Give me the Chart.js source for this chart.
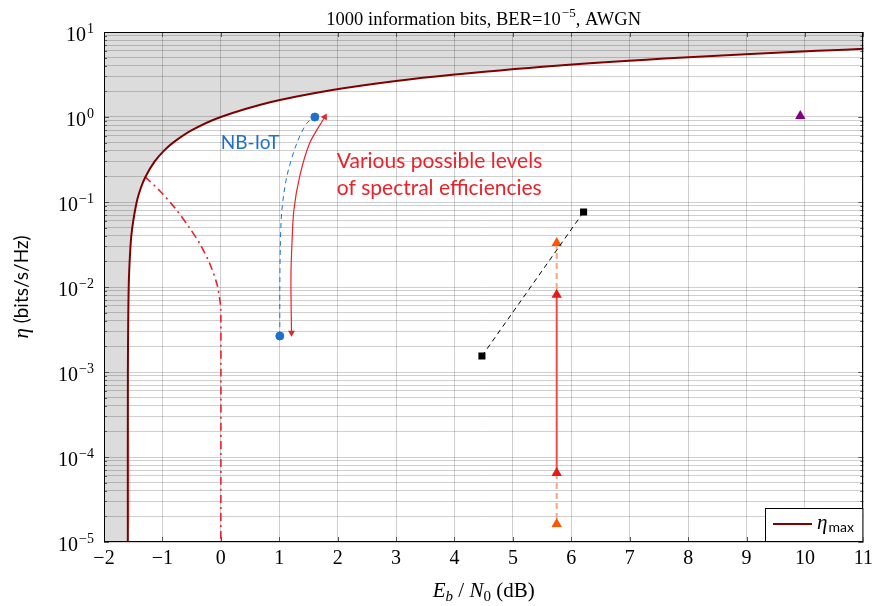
<!DOCTYPE html>
<html><head><meta charset="utf-8">
<script src="https://cdn.jsdelivr.net/npm/chart.js@4/dist/chart.umd.min.js"></script>
<style>html,body{margin:0;padding:0;background:#fff}canvas{display:block}</style>
</head><body>
<canvas id="c" width="878" height="606"></canvas>
<script>
// ---- data ----
const xTicks = [-2,-1,0,1,2,3,4,5,6,7,8,9,10,11];
const yTickExps = [-5,-4,-3,-2,-1,0,1];
const yMantissas = [1,2,3,4,5,6,7,8,9];

// eta_max curve (Eb/N0 dB, eta)
const etaMaxEbN0 = [-1.592,-1.591,-1.577,-1.547,-1.516,-1.440,-1.364,-1.287,-1.132,-0.976,-0.817,-0.496,0.0,0.860,1.761,2.70,3.680,5.740,7.924,10.212,11.15];
const etaMaxEta  = [1e-5, 1e-3, 0.01, 0.03, 0.05, 0.1, 0.15, 0.2, 0.3, 0.4, 0.5, 0.7, 1.0, 1.5, 2.0, 2.5, 3.0, 4.0, 5.0, 6.0, 6.4];

// red dash-dot limit curve
const limitEbN0 = [-1.30,-1.042,-0.786,-0.546,-0.358,-0.187,-0.067,-0.016,0.0,0.0];
const limitEta  = [0.199,0.1347,0.085,0.0508,0.0321,0.01865,0.01084,0.00703,0.00508,1e-5];

// NB-IoT (blue)
const nbiotPathEbN0 = [1.01,1.01,1.02,1.045,1.13,1.30,1.47,1.61];
const nbiotPathEta  = [0.00265,0.01,0.033,0.08,0.2,0.49,0.84,1.0];
const nbiotPtsEbN0 = [1.01,1.61];
const nbiotPtsEta  = [0.00265,1.0];

// red double arrow
const arrowEbN0 = [1.21,1.20,1.22,1.25,1.35,1.52,1.78];
const arrowEta  = [0.0029,0.0132,0.035,0.08,0.2,0.49,1.0];
const arrowHeadRot = [180, 30];

// black squares
const blackEbN0 = [4.47, 6.21];
const blackEta  = [0.00154, 0.0763];

// triangles at 5.75 dB
const triEbN0 = 5.75;
const orangeEta = [0.033, 1.63e-5];
const redEta = [0.0081, 6.5e-5];

// purple triangle
const purpleEbN0 = [9.92];
const purpleEta = [1.03];

// texts
const titleParts = ['1000 information bits, BER=10', '\u22125', ', AWGN'];
const nbiotLabel = 'NB-IoT';
const redLabel = ['Various possible levels', 'of spectral efficiencies'];
const legendLabel = ['\u03B7', 'max'];

// ---- helpers ----
const pts = (xs, ys) => xs.map((x, i) => ({x, y: ys[i]}));
const xMin = xTicks[0], xMax = xTicks[xTicks.length - 1];
const yMin = Math.pow(10, yTickExps[0]), yMax = Math.pow(10, yTickExps[yTickExps.length - 1]);

const yTickValues = [];
for (let k = yTickExps[0]; k < yTickExps[yTickExps.length - 1]; k++) {
  yMantissas.forEach(m => yTickValues.push({value: m * Math.pow(10, k), major: m === 1}));
}
yTickValues.push({value: yMax, major: true});

const SERIF = '"Liberation Serif", "DejaVu Serif", serif';
const SANS = 'Lato, "Open Sans", sans-serif';

const RED = '#e8232b';
const DARKRED = '#800000';
const BLUE = '#1f6fcc';
const ORANGE = '#ff5500';
const SALMON = '#f7a588';

const fillData = [{x: xMin, y: yMin}].concat(pts(etaMaxEbN0, etaMaxEta));

const deco = {
  id: 'deco',
  afterDraw(chart) {
    const ctx = chart.ctx;
    const xs = chart.scales.x, ys = chart.scales.y;
    const a = chart.chartArea;
    ctx.save();
    // tick marks
    ctx.strokeStyle = '#555';
    ctx.lineWidth = 1;
    xTicks.forEach(v => {
      const px = Math.round(xs.getPixelForValue(v)) + 0.5;
      ctx.beginPath();
      ctx.moveTo(px, a.bottom); ctx.lineTo(px, a.bottom - 5);
      ctx.moveTo(px, a.top); ctx.lineTo(px, a.top + 5);
      ctx.stroke();
    });
    yTickValues.forEach(t => {
      const py = Math.round(ys.getPixelForValue(t.value)) + 0.5;
      const L = t.major ? 5 : 3;
      ctx.beginPath();
      ctx.moveTo(a.left, py); ctx.lineTo(a.left + L, py);
      ctx.moveTo(a.right, py); ctx.lineTo(a.right - L, py);
      ctx.stroke();
    });
    // border
    ctx.strokeStyle = '#000';
    ctx.strokeRect(Math.round(a.left) + 0.5, Math.round(a.top) + 0.5, Math.round(a.right - a.left) - 1, Math.round(a.bottom - a.top) - 1);

    ctx.fillStyle = '#000';
    ctx.textBaseline = 'alphabetic';
    // y tick labels
    yTickExps.forEach(k => {
      const py = ys.getPixelForValue(Math.pow(10, k));
      const sup = k < 0 ? '\u2212' + Math.abs(k) : String(k);
      ctx.font = '14px ' + SERIF;
      const ws = ctx.measureText(sup).width;
      ctx.font = '20px ' + SERIF;
      const wb = ctx.measureText('10').width;
      const right = 94;
      ctx.textAlign = 'left';
      ctx.fillText('10', right - ws - wb - 1, py + 9);
      ctx.font = '14px ' + SERIF;
      ctx.fillText(sup, right - ws, py + 1);
    });

    // title
    const TF = '18.5px ' + SERIF, TS = '13px ' + SERIF;
    ctx.font = TF;
    const w0 = ctx.measureText(titleParts[0]).width;
    const w2 = ctx.measureText(titleParts[2]).width;
    ctx.font = TS;
    const w1 = ctx.measureText(titleParts[1]).width;
    const cx = (a.left + a.right) / 2;
    let tx = cx - (w0 + w1 + w2 + 1) / 2;
    ctx.font = TF;
    ctx.fillText(titleParts[0], tx, 25);
    ctx.font = TS;
    ctx.fillText(titleParts[1], tx + w0 + 1, 17);
    ctx.font = TF;
    ctx.fillText(titleParts[2], tx + w0 + w1 + 1, 25);

    // x axis title: E_b / N_0 (dB)
    const segs = [
      ['E', 'italic 21px ' + SERIF, 0],
      ['b', 'italic 15px ' + SERIF, 4],
      [' / ', '21px ' + SERIF, 0],
      ['N', 'italic 21px ' + SERIF, 0],
      ['0', '15px ' + SERIF, 4],
      [' (dB)', '21px ' + SERIF, 0]
    ];
    let tw = 0;
    segs.forEach(s => { ctx.font = s[1]; s.push(ctx.measureText(s[0]).width); tw += s[3]; });
    let sx = cx - tw / 2;
    segs.forEach(s => { ctx.font = s[1]; ctx.fillText(s[0], sx, 597 + s[2]); sx += s[3]; });

    // y axis title
    ctx.save();
    ctx.translate(28, (a.top + a.bottom) / 2);
    ctx.rotate(-Math.PI / 2);
    ctx.font = 'italic 21px ' + SERIF;
    const we = ctx.measureText('\u03B7').width;
    ctx.font = '19px ' + SANS;
    const wr = ctx.measureText(' (bits/s/Hz)').width;
    let yx = -(we + wr) / 2;
    ctx.font = 'italic 21px ' + SERIF;
    ctx.fillText('\u03B7', yx, 0);
    ctx.font = '19px ' + SANS;
    ctx.fillText(' (bits/s/Hz)', yx + we, 0);
    ctx.restore();

    // annotations
    ctx.fillStyle = BLUE;
    ctx.font = '19px ' + SANS;
    ctx.fillText(nbiotLabel, xs.getPixelForValue(0.0), ys.getPixelForValue(0.42));
    ctx.fillStyle = RED;
    ctx.font = '21px ' + SANS;
    ctx.fillText(redLabel[0], xs.getPixelForValue(1.985), ys.getPixelForValue(0.251));
    ctx.fillText(redLabel[1], xs.getPixelForValue(1.985), ys.getPixelForValue(0.121));

    // legend
    const lx = 765, ly = 508;
    ctx.fillStyle = '#fff';
    ctx.fillRect(lx, ly, a.right - lx, a.bottom - ly);
    ctx.strokeStyle = '#000';
    ctx.lineWidth = 1;
    ctx.strokeRect(lx + 0.5, ly + 0.5, a.right - lx - 1, a.bottom - ly - 1);
    ctx.strokeStyle = DARKRED;
    ctx.lineWidth = 2;
    ctx.beginPath(); ctx.moveTo(773, 524); ctx.lineTo(812, 524); ctx.stroke();
    ctx.fillStyle = '#000';
    ctx.font = 'italic 21px ' + SERIF;
    ctx.fillText(legendLabel[0], 817, 529);
    const wl = ctx.measureText(legendLabel[0]).width;
    ctx.font = '14px ' + SANS;
    ctx.fillText(legendLabel[1], 817 + wl + 1, 532);
    ctx.restore();
  }
};

const arrowPts = pts(arrowEbN0, arrowEta);

new Chart(document.getElementById('c'), {
  type: 'scatter',
  data: {
    datasets: [
      { data: fillData, showLine: true, fill: 'end', backgroundColor: '#dcdcdc', borderWidth: 0, borderColor: 'rgba(0,0,0,0)', pointRadius: 0, tension: 0.3, order: 10 },
      { data: pts(etaMaxEbN0, etaMaxEta), showLine: true, borderColor: DARKRED, borderWidth: 2, pointRadius: 0, tension: 0.3, order: 1 },
      { data: pts(limitEbN0, limitEta), showLine: true, borderColor: RED, borderWidth: 1.6, borderDash: [8, 4, 2, 4], pointRadius: 0, tension: 0.3, order: 2 },
      { data: pts(nbiotPathEbN0, nbiotPathEta), showLine: true, borderColor: BLUE, borderWidth: 1, borderDash: [5, 4], pointRadius: 0, tension: 0.3, order: 2 },
      { data: pts(nbiotPtsEbN0, nbiotPtsEta), showLine: false, backgroundColor: BLUE, borderColor: BLUE, pointRadius: 4, pointStyle: 'circle', order: 1 },
      { data: arrowPts, showLine: true, borderColor: RED, borderWidth: 1.2, pointRadius: 0, tension: 0.3, order: 2 },
      { data: [arrowPts[0], arrowPts[arrowPts.length - 1]], showLine: false, backgroundColor: RED, borderColor: RED, borderWidth: 0, pointStyle: 'triangle', pointRadius: 4, rotation: arrowHeadRot, order: 1 },
      { data: pts(blackEbN0, blackEta), showLine: true, borderColor: '#000', borderWidth: 1, borderDash: [5, 4], backgroundColor: '#000', pointStyle: 'rect', pointRadius: 5, pointBorderWidth: 0, order: 1 },
      { data: [{x: triEbN0, y: orangeEta[0]}, {x: triEbN0, y: redEta[0]}], showLine: true, borderColor: SALMON, borderWidth: 2, borderDash: [6, 4], pointRadius: 0, order: 3 },
      { data: [{x: triEbN0, y: redEta[0]}, {x: triEbN0, y: redEta[1]}], showLine: true, borderColor: '#ef4b4b', borderWidth: 2, pointRadius: 0, order: 3 },
      { data: [{x: triEbN0, y: redEta[1]}, {x: triEbN0, y: orangeEta[1]}], showLine: true, borderColor: SALMON, borderWidth: 2, borderDash: [6, 4], pointRadius: 0, order: 3 },
      { data: orangeEta.map(y => ({x: triEbN0, y})), showLine: false, backgroundColor: ORANGE, borderColor: ORANGE, pointStyle: 'triangle', pointRadius: 6, borderWidth: 0, order: 1 },
      { data: redEta.map(y => ({x: triEbN0, y})), showLine: false, backgroundColor: '#e41a1c', borderColor: '#e41a1c', pointStyle: 'triangle', pointRadius: 6, borderWidth: 0, order: 1 },
      { data: pts(purpleEbN0, purpleEta), showLine: false, backgroundColor: '#800080', borderColor: '#800080', pointStyle: 'triangle', pointRadius: 6, borderWidth: 0, order: 1 }
    ]
  },
  options: {
    responsive: false,
    animation: false,
    events: [],
    layout: { padding: { top: 32, right: 14, left: 0, bottom: 0 } },
    plugins: {
      legend: { display: false },
      tooltip: { enabled: false },
      filler: { drawTime: 'beforeDraw' }
    },
    scales: {
      x: {
        type: 'linear', min: xMin, max: xMax,
        afterFit: s => { s.height = 64; },
        afterBuildTicks: s => { s.ticks = xTicks.map(v => ({value: v})); },
        grid: { color: 'rgba(0,0,0,0.19)', lineWidth: 1, drawTicks: false },
        border: { display: false },
        ticks: {
          padding: 5, color: '#000', font: { family: SERIF, size: 20 },
          callback: v => v < 0 ? '\u2212' + Math.abs(v) : String(v)
        }
      },
      y: {
        type: 'logarithmic', min: yMin, max: yMax,
        afterFit: s => { s.width = 104; },
        afterBuildTicks: s => { s.ticks = yTickValues.map(t => ({value: t.value})); },
        grid: { color: 'rgba(0,0,0,0.19)', lineWidth: 1, drawTicks: false },
        border: { display: false },
        ticks: { display: false }
      }
    }
  },
  plugins: [deco]
});
</script>
</body></html>
